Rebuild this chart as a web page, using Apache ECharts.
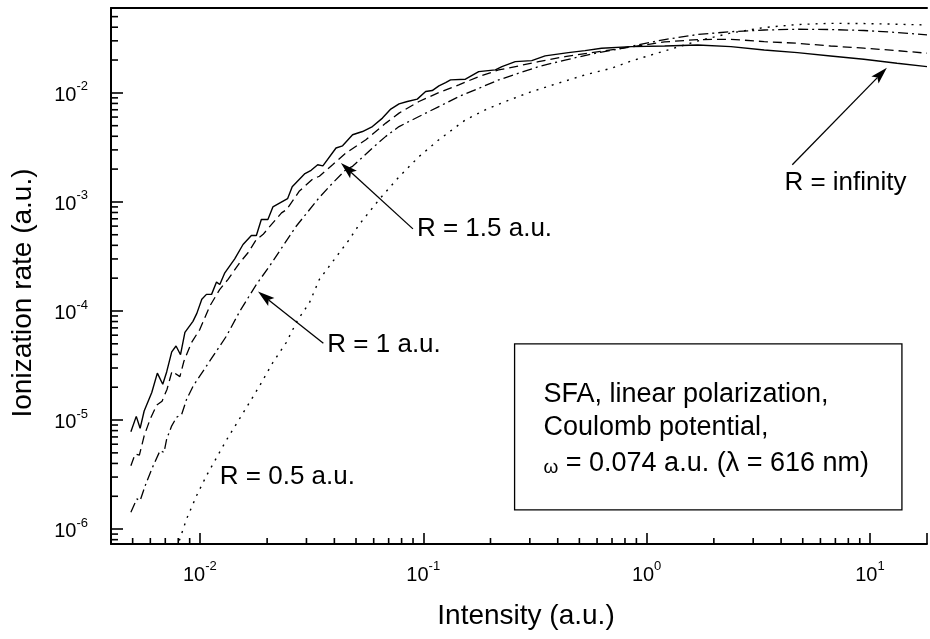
<!DOCTYPE html>
<html><head><meta charset="utf-8">
<script src="https://cdn.jsdelivr.net/npm/echarts@6/dist/echarts.min.js"></script>
<style>html,body{margin:0;padding:0;background:#fff}#c{width:930px;height:639px}</style>
</head><body><div id="c"></div>
<script>
// ---------- data (intensity a.u., ionization rate a.u.) ----------
const rInfinity = [[0.00491,7.8e-6],[0.00519,1.08e-5],[0.0054,8.4e-6],[0.00563,1.21e-5],[0.00609,1.79e-5],[0.00645,2.69e-5],[0.00682,2.13e-5],[0.0071,2.76e-5],[0.00748,4.22e-5],[0.00782,4.77e-5],[0.00819,3.97e-5],[0.00857,6.37e-5],[0.00931,8.03e-5],[0.00969,9.51e-5],[0.0102,1.28e-4],[0.0107,1.42e-4],[0.01128,1.42e-4],[0.01187,1.84e-4],[0.01228,1.75e-4],[0.01293,2.24e-4],[0.01432,3.01e-4],[0.0156,4.07e-4],[0.017,4.92e-4],[0.0179,4.92e-4],[0.01884,6.89e-4],[0.02016,6.89e-4],[0.02122,9.0e-4],[0.02469,1.07e-3],[0.0259,1.38e-3],[0.02954,1.82e-3],[0.03148,1.95e-3],[0.03369,2.19e-3],[0.03553,2.14e-3],[0.04069,3.12e-3],[0.04353,3.27e-3],[0.04826,4.13e-3],[0.05347,4.42e-3],[0.05923,4.91e-3],[0.06566,5.87e-3],[0.07155,7.1e-3],[0.07792,7.93e-3],[0.08486,8.33e-3],[0.09403,8.76e-3],[0.1025,0.01028],[0.1097,0.0105],[0.1175,0.01159],[0.1259,0.01242],[0.1325,0.01315],[0.1545,0.01334],[0.1771,0.01566],[0.2103,0.01623],[0.225,0.0174],[0.2582,0.01934],[0.3061,0.01975],[0.3512,0.02181],[0.4462,0.02337],[0.5297,0.02438],[0.6284,0.02565],[0.8546,0.02652],[1.204,0.02692],[1.695,0.02749],[2.386,0.02652],[3.361,0.02474],[4.732,0.02337],[6.66,0.02181],[9.385,0.02034],[13.21,0.01869],[18,0.0174]];
const rOnePointFive = [[0.00491,3.81e-6],[0.00513,4.88e-6],[0.00536,4.77e-6],[0.00563,7.17e-6],[0.00599,1.02e-5],[0.00641,1.37e-5],[0.00677,1.49e-5],[0.00713,1.92e-5],[0.0075,2.8e-5],[0.00814,2.5e-5],[0.00848,3.46e-5],[0.00917,5.13e-5],[0.01,6.79e-5],[0.01108,1.11e-4],[0.01228,1.58e-4],[0.01337,1.95e-4],[0.01508,2.77e-4],[0.01642,3.42e-4],[0.0179,4.52e-4],[0.01915,5.02e-4],[0.02122,6.43e-4],[0.0232,7.93e-4],[0.02443,8.5e-4],[0.02791,1.26e-3],[0.03199,1.62e-3],[0.03428,1.72e-3],[0.03928,2.19e-3],[0.04508,2.81e-3],[0.05535,3.72e-3],[0.06798,5.28e-3],[0.07792,6.52e-3],[0.09568,8.33e-3],[0.1175,0.01006],[0.1443,0.01184],[0.1771,0.0141],[0.2175,0.01623],[0.2672,0.01766],[0.3279,0.01934],[0.4314,0.02149],[0.5669,0.02337],[0.7456,0.0253],[0.8546,0.0264],[1.204,0.0293],[1.695,0.0308],[2.386,0.031],[3.361,0.0295],[4.732,0.0285],[6.66,0.0269],[9.385,0.0257],[13.21,0.0244],[18,0.0231]];
const rOne = [[0.00491,1.43e-6],[0.00522,1.89e-6],[0.0054,1.82e-6],[0.00569,2.5e-6],[0.00609,3.56e-6],[0.00663,5.23e-6],[0.00691,5.05e-6],[0.0071,6.69e-6],[0.00748,8.85e-6],[0.00787,1.06e-5],[0.00829,1.13e-5],[0.00872,1.55e-5],[0.00934,2.06e-5],[0.01,2.54e-5],[0.01147,3.87e-5],[0.01315,5.89e-5],[0.01508,9.92e-5],[0.0179,1.75e-4],[0.02051,2.58e-4],[0.02352,3.93e-4],[0.02698,5.98e-4],[0.03428,1.1e-3],[0.03928,1.49e-3],[0.04508,1.98e-3],[0.04826,2.12e-3],[0.05923,3.12e-3],[0.06798,3.99e-3],[0.07792,4.91e-3],[0.09568,6.07e-3],[0.1175,7.49e-3],[0.1443,9.25e-3],[0.1771,0.011],[0.2175,0.01315],[0.2672,0.01514],[0.3279,0.0174],[0.4314,0.02],[0.5669,0.0227],[0.7456,0.0252],[0.8546,0.0268],[1.204,0.0308],[1.695,0.0343],[2.386,0.0364],[3.361,0.0377],[4.732,0.0383],[6.66,0.0381],[9.385,0.0373],[13.21,0.0358],[18,0.034]];
const rHalf = [[0.00809,7.85e-7],[0.00872,1.24e-6],[0.00967,2.03e-6],[0.0107,3.09e-6],[0.01315,6.55e-6],[0.01615,1.3e-5],[0.01851,2.06e-5],[0.02122,3.37e-5],[0.02435,5.13e-5],[0.02734,8.2e-5],[0.03093,1.19e-4],[0.03428,1.95e-4],[0.04123,3.23e-4],[0.04665,4.52e-4],[0.05167,6.2e-4],[0.06346,1.05e-3],[0.07792,1.7e-3],[0.09568,2.6e-3],[0.1175,3.72e-3],[0.1259,4.13e-3],[0.1545,5.66e-3],[0.1897,6.99e-3],[0.233,8.33e-3],[0.3061,0.01028],[0.4027,0.01227],[0.5297,0.01461],[0.6961,0.01683],[0.8546,0.01963],[1.204,0.02423],[1.695,0.02991],[2.386,0.0354],[3.361,0.03974],[4.732,0.04233],[6.66,0.04341],[9.385,0.0432],[13.21,0.0426],[18,0.0419]];

// ---------- axes / ticks ----------
const xMin = 0.004, xMax = 18, yMin = 7.3e-7, yMax = 0.06;
const xDecades = [0.01, 0.1, 1, 10];
const yDecades = [1e-6, 1e-5, 1e-4, 1e-3, 1e-2];
const mantissas = [2,3,4,5,6,7,8,9];
const xMinorTicks = [0.005,0.006,0.007,0.008,0.009]
  .concat(mantissas.map(m=>m*0.01), mantissas.map(m=>m*0.1), mantissas.map(m=>m*1));
const yMinorTicks = [8e-7,9e-7]
  .concat(mantissas.map(m=>m*1e-6), mantissas.map(m=>m*1e-5), mantissas.map(m=>m*1e-4),
          mantissas.map(m=>m*1e-3), [2e-2,3e-2,4e-2,5e-2]);

// ---------- annotations (data coordinates) ----------
const labelRInf = {text:'R = infinity', at:[4.14,1.5e-3], tail:[4.49,2.19e-3], tip:[11.9,0.01695]};
const labelR15 = {text:'R = 1.5 a.u.', at:[0.0937,5.66e-4], tail:[0.0899,5.66e-4], tip:[0.0428,2.27e-3]};
const labelR1 = {text:'R = 1 a.u.', at:[0.0372,4.89e-5], tail:[0.0357,5.05e-5], tip:[0.0182,1.51e-4]};
const labelR05 = {text:'R = 0.5 a.u.', at:[0.01228,3.01e-6]};
const boxCorners = [[0.2564,4.99e-5],[13.9,1.5e-6]];
const boxLines = ['SFA, linear polarization,', 'Coulomb potential,', '{w|ω}{t| = 0.074 a.u. (λ = 616 nm)}'];
const boxLineAnchors = [[0.3452,1.7e-5],[0.3452,8.48e-6],[0.3452,4.22e-6]];

const FONT = '"Liberation Sans", Arial, Helvetica, sans-serif';
const BLACK = '#000';

function isDecade(v, list){ return list.some(d => Math.abs(d - v) / d < 1e-6); }
function decadeLabel(list){
  return v => isDecade(v, list) ? '{b|10}{s|' + Math.round(Math.log10(v)) + '}' : '';
}
const labelRich = {
  b:{fontSize:20, fontFamily:FONT, color:BLACK, lineHeight:25, verticalAlign:'bottom'},
  s:{fontSize:13, fontFamily:FONT, color:BLACK, lineHeight:25, verticalAlign:'top'}
};

const chart = echarts.init(document.getElementById('c'), null, {renderer:'canvas'});
const option = {
  animation:false,
  backgroundColor:'#fff',
  grid:{left:111, top:8, right:0, bottom:95, containLabel:false},
  xAxis:[
    {type:'log', logBase:10, min:xMin, max:xMax, position:'bottom',
     axisLine:{show:true, onZero:false, lineStyle:{color:BLACK, width:2}},
     axisTick:{show:true, inside:true, length:11, lineStyle:{color:BLACK, width:1.6}},
     axisLabel:{show:true, margin:16, formatter:decadeLabel(xDecades), rich:labelRich, showMinLabel:true, showMaxLabel:true},
     splitLine:{show:false}, minorTick:{show:false}, minorSplitLine:{show:false}},
    {type:'log', logBase:10, min:xMin, max:xMax, position:'top',
     axisLine:{show:true, onZero:false, lineStyle:{color:BLACK, width:2}},
     axisTick:{show:false}, axisLabel:{show:false}, splitLine:{show:false}}
  ],
  yAxis:[
    {type:'log', logBase:10, min:yMin, max:yMax, position:'left',
     axisLine:{show:true, onZero:false, lineStyle:{color:BLACK, width:2}},
     axisTick:{show:true, inside:true, length:12, lineStyle:{color:BLACK, width:1.6}},
     axisLabel:{show:true, margin:23, formatter:decadeLabel(yDecades), rich:labelRich},
     splitLine:{show:false}}
  ],
  series:[
    {name:'R = infinity', type:'line', data:rInfinity, symbol:'none', showSymbol:false,
     lineStyle:{color:BLACK, width:1.4, type:'solid'}},
    {name:'R = 1.5 a.u.', type:'line', data:rOnePointFive, symbol:'none', showSymbol:false,
     lineStyle:{color:BLACK, width:1.3, type:[9,5]}},
    {name:'R = 1 a.u.', type:'line', data:rOne, symbol:'none', showSymbol:false,
     lineStyle:{color:BLACK, width:1.3, type:[10,4,2,4]}},
    {name:'R = 0.5 a.u.', type:'line', data:rHalf, symbol:'none', showSymbol:false,
     lineStyle:{color:BLACK, width:1.4, type:[2,6]}},
    {type:'custom', silent:true, clip:false, data:xMinorTicks.map(v=>[v, yMin]),
     renderItem:(p, api)=>{ const c = api.coord([api.value(0), api.value(1)]);
       return {type:'line', shape:{x1:c[0], y1:c[1], x2:c[0], y2:c[1]-6}, style:{stroke:BLACK, lineWidth:1.6}}; }},
    {type:'custom', silent:true, clip:false, data:yMinorTicks.map(v=>[xMin, v]),
     renderItem:(p, api)=>{ const c = api.coord([api.value(0), api.value(1)]);
       return {type:'line', shape:{x1:c[0], y1:c[1], x2:c[0]+7, y2:c[1]}, style:{stroke:BLACK, lineWidth:1.6}}; }}
  ]
};
chart.setOption(option);

// ---------- annotations drawn through the axes' scales ----------
const toPx = d => chart.convertToPixel({gridIndex:0}, d);
function textEl(str, d, size){
  const p = toPx(d);
  return {type:'text', x:p[0], y:p[1], z:20,
    style:{text:str, fontSize:size, fontFamily:FONT, fill:BLACK, align:'left', verticalAlign:'middle'}};
}
function arrowEls(tail, tip){
  const a = toPx(tail), b = toPx(tip);
  const dx = b[0]-a[0], dy = b[1]-a[1], L = Math.hypot(dx, dy), ux = dx/L, uy = dy/L;
  const hl = 17, hw = 5;
  const base = [b[0]-ux*hl, b[1]-uy*hl];
  const notch = [b[0]-ux*hl*0.8, b[1]-uy*hl*0.8];
  return [
    {type:'line', z:20, shape:{x1:a[0], y1:a[1], x2:notch[0], y2:notch[1]}, style:{stroke:BLACK, lineWidth:1.3}},
    {type:'polygon', z:20, shape:{points:[b, [base[0]-uy*hw, base[1]+ux*hw], notch, [base[0]+uy*hw, base[1]-ux*hw]]}, style:{fill:BLACK}}
  ];
}
const g = [];
[labelRInf, labelR15, labelR1].forEach(l => { g.push(textEl(l.text, l.at, 26)); g.push(...arrowEls(l.tail, l.tip)); });
g.push(textEl(labelR05.text, labelR05.at, 26));
const b0 = toPx(boxCorners[0]), b1 = toPx(boxCorners[1]);
g.push({type:'rect', z:15, shape:{x:b0[0], y:b0[1], width:b1[0]-b0[0], height:b1[1]-b0[1]},
  style:{fill:'#fff', stroke:BLACK, lineWidth:1.3}});
boxLines.forEach((t, i) => {
  const el = textEl(t, boxLineAnchors[i], 27);
  if (i === 2) {
    el.style.rich = {
      w:{fontSize:19, fontFamily:FONT, fill:BLACK, lineHeight:32, verticalAlign:'bottom'},
      t:{fontSize:27, fontFamily:FONT, fill:BLACK, lineHeight:32, verticalAlign:'bottom'}
    };
  }
  g.push(el);
});
// axis titles
g.push({type:'text', x:526, y:616, z:20, style:{text:'Intensity (a.u.)', fontSize:28, fontFamily:FONT, fill:BLACK, align:'center', verticalAlign:'middle'}});
g.push({type:'text', x:23, y:293, z:20, rotation:Math.PI/2, style:{text:'Ionization rate (a.u.)', fontSize:28, fontFamily:FONT, fill:BLACK, align:'center', verticalAlign:'middle'}});
chart.setOption({graphic:{elements:g}});
</script>
</body></html>
